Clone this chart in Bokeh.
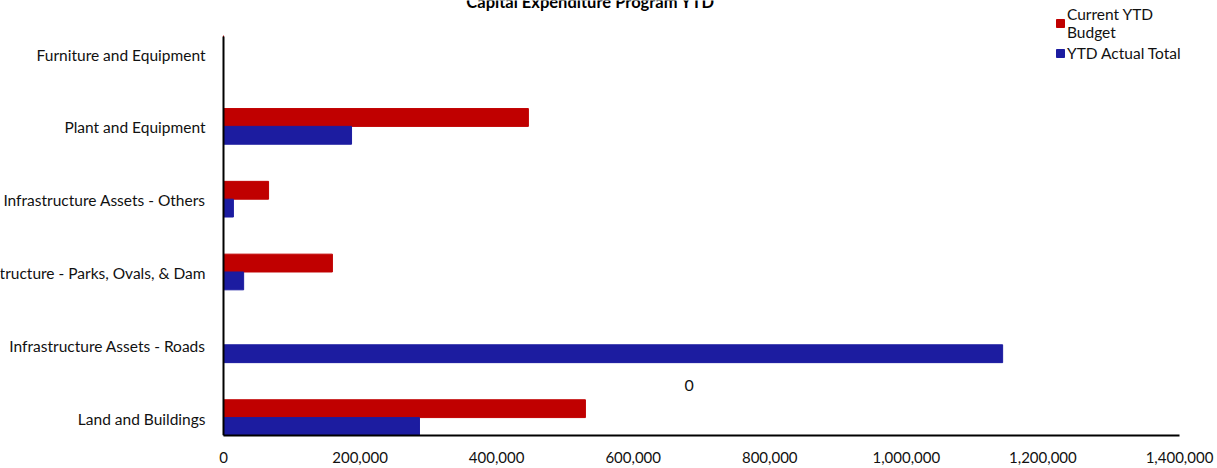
from bokeh.plotting import figure
from bokeh.models import (ColumnDataSource, Label, Legend, LegendItem, LinearAxis,
                          FixedTicker, NumeralTickFormatter, Range1d)
from bokeh.transform import dodge
from bokeh.embed import file_html
from bokeh.resources import INLINE

categories = ["Land and Buildings", "Infrastructure Assets - Roads",
              "Infrastructure - Parks, Ovals, & Dam", "Infrastructure Assets - Others",
              "Plant and Equipment", "Furniture and Equipment"]
budget = [530000, 0, 159500, 66000, 446500, 0]
actual = [287000, 1141000, 29500, 14500, 187500, 0]
x_ticks = [0, 200000, 400000, 600000, 800000, 1000000, 1200000, 1400000]
title_text = "Capital Expenditure Program YTD"
series_names = ["Current YTD\nBudget", "YTD Actual Total"]
stray_label = "0"

FONT = "Lato"
RED = "#C00000"
BLUE = "#1C1CA0"
TXT = "#111111"

# pixel geometry of the plotting area (canvas 1217 x 468)
X0_PX, X1_PX, W = 223, 1179, 1217
per_px = 1400000 / (X1_PX - X0_PX)
FRAME_BOTTOM = 435
UNIT_PX = 72.8
ROW0_PX = 418

src = ColumnDataSource(dict(idx=list(range(len(categories))), cat=categories,
                            budget=budget, actual=actual))

x_range = Range1d(-X0_PX * per_px, 1400000 + (W - X1_PX) * per_px)
y_range = Range1d(-(FRAME_BOTTOM - ROW0_PX) / UNIT_PX, ROW0_PX / UNIT_PX)

p = figure(width=1217, height=468, output_backend="svg", toolbar_location=None,
           x_range=x_range, y_range=y_range, y_axis_location=None,
           min_border_left=0, min_border_right=0, min_border_top=0, min_border_bottom=33)
p.outline_line_color = None
p.xgrid.visible = False
p.ygrid.visible = False
p.background_fill_color = "white"
p.border_fill_color = "white"

r_budget = p.hbar(y=dodge("idx", 0.135, range=p.y_range), right="budget", left=0,
                  height=0.245, color=RED, source=src)
r_actual = p.hbar(y=dodge("idx", -0.11, range=p.y_range), right="actual", left=0,
                  height=0.245, color=BLUE, source=src)

# x axis
xa = p.xaxis[0]
xa.ticker = FixedTicker(ticks=x_ticks)
xa.formatter = NumeralTickFormatter(format="0,0")
xa.bounds = (x_ticks[0], x_ticks[-1])
xa.major_tick_line_color = None
xa.minor_tick_line_color = None
xa.axis_line_color = "black"
xa.axis_line_width = 2
xa.major_label_standoff = 10
xa.major_label_text_font = FONT
xa.major_label_text_font_size = "15px"
xa.major_label_text_color = TXT

# category axis placed at x = 0
ya = LinearAxis(fixed_location=0,
                ticker=FixedTicker(ticks=list(range(len(categories)))),
                major_label_overrides={i: c for i, c in enumerate(categories)},
                bounds=(y_range.start, (ROW0_PX - 36) / UNIT_PX))
ya.major_tick_line_color = None
ya.minor_tick_line_color = None
ya.axis_line_color = "black"
ya.axis_line_width = 2
ya.major_label_standoff = 12
ya.major_label_text_font = FONT
ya.major_label_text_font_size = "15.5px"
ya.major_label_text_color = TXT
p.add_layout(ya, "left")

p.add_layout(Label(x=590, y=434, x_units="screen", y_units="screen", text=title_text,
                   text_font=FONT, text_font_size="16.5px", text_font_style="bold",
                   text_align="center", text_baseline="alphabetic", text_color="black"))

p.add_layout(Label(x=682000, y=0.45, text=stray_label, text_font=FONT,
                   text_font_size="16px", text_align="center", text_baseline="middle",
                   text_color=TXT))

legend = Legend(items=[LegendItem(label=series_names[0], renderers=[r_budget]),
                       LegendItem(label=series_names[1], renderers=[r_actual])],
                location=(1055, 373), orientation="vertical",
                padding=0, margin=0, spacing=2,
                glyph_width=10, glyph_height=10, label_standoff=2,
                label_text_font=FONT, label_text_font_size="15.5px",
                label_text_color=TXT, label_height=19,
                border_line_color=None, background_fill_alpha=0)
p.add_layout(legend, "center")

open("out.html", "w").write(file_html(p, INLINE))
